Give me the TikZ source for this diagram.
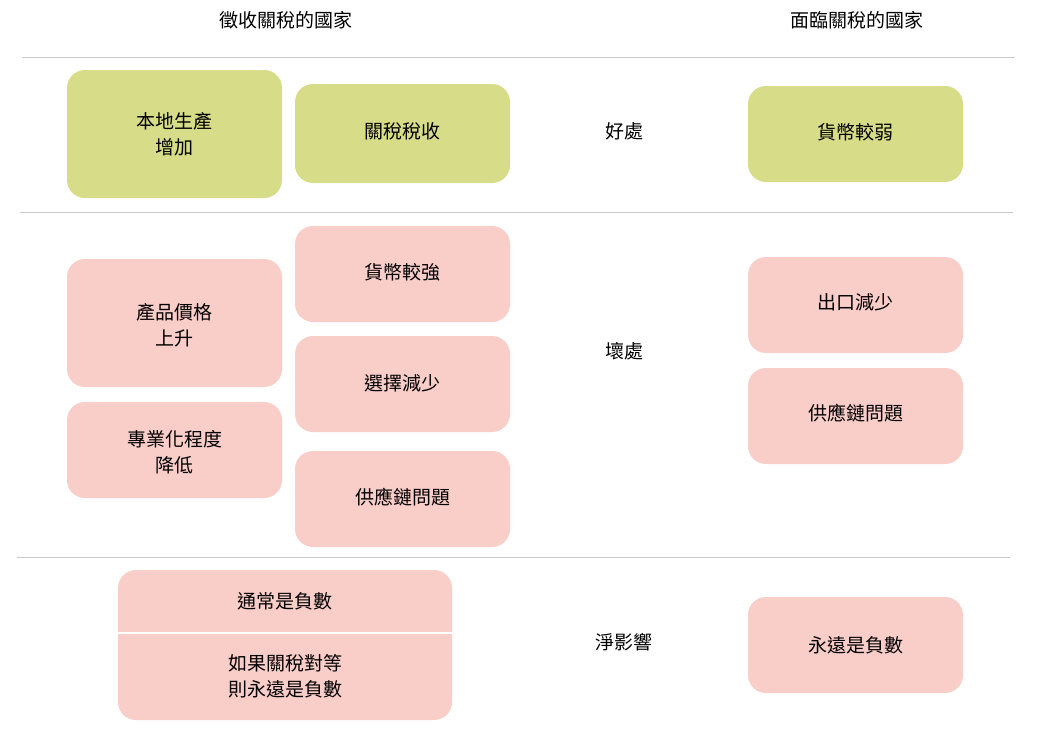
\documentclass[tikz,border=0pt]{standalone}
\usepackage{fontspec}
\setmainfont{Noto Sans CJK TC}
\definecolor{good}{HTML}{D6DC87}
\definecolor{bad}{HTML}{F9CDC8}
\definecolor{rule}{HTML}{C8C8C8}
\begin{document}
\begin{tikzpicture}[x=1pt,y=-1pt,
  bx/.style={rounded corners=18pt,draw=none},
  lbl/.style={font=\fontsize{19}{26}\selectfont,align=center,text=black},
  sep/.style={draw=rule,line width=0.8pt}]
\useasboundingbox (0,0) rectangle (1037,729);
\node[lbl] (h1) at (286,20) {徵收關稅的國家};
\node[lbl] (h2) at (857,20) {面臨關稅的國家};
\draw[sep] (22,57) -- (1015,57);
\draw[sep] (20,212) -- (1013,212);
\draw[sep] (17,557) -- (1010,557);
% good
\fill[good,bx] (67,70) rectangle (282,198);
\node[lbl] (a1) at (174.5,134) {本地生產\\增加};
\fill[good,bx] (295,84) rectangle (510,183);
\node[lbl] (a2) at (402.5,131) {關稅稅收};
\node[lbl] (g) at (624,131) {好處};
\fill[good,bx] (748,86) rectangle (963,182);
\node[lbl] (a3) at (855.5,132) {貨幣較弱};
% bad
\fill[bad,bx] (67,259) rectangle (282,387);
\node[lbl] (b1) at (174.5,325) {產品價格\\上升};
\fill[bad,bx] (67,402) rectangle (282,498);
\node[lbl] (b2) at (174.5,452) {專業化程度\\降低};
\fill[bad,bx] (295,226) rectangle (510,322);
\node[lbl] (b3) at (402.5,272) {貨幣較強};
\fill[bad,bx] (295,336) rectangle (510,432);
\node[lbl] (b4) at (402.5,383) {選擇減少};
\fill[bad,bx] (295,451) rectangle (510,547);
\node[lbl] (b5) at (402.5,497) {供應鏈問題};
\node[lbl] (w) at (624,351) {壞處};
\fill[bad,bx] (748,257) rectangle (963,353);
\node[lbl] (b6) at (855.5,302) {出口減少};
\fill[bad,bx] (748,368) rectangle (963,464);
\node[lbl] (b7) at (855.5,413) {供應鏈問題};
% net
\fill[bad,bx] (118,570) rectangle (452,720);
\draw[white,line width=2pt] (118,633) -- (452,633);
\node[lbl] (c1) at (285,601) {通常是負數};
\node[lbl] (c2) at (285,676) {如果關稅對等\\則永遠是負數};
\node[lbl] (n) at (624,642) {淨影響};
\fill[bad,bx] (748,597) rectangle (963,693);
\node[lbl] (c3) at (855.5,645) {永遠是負數};
\end{tikzpicture}
\end{document}
